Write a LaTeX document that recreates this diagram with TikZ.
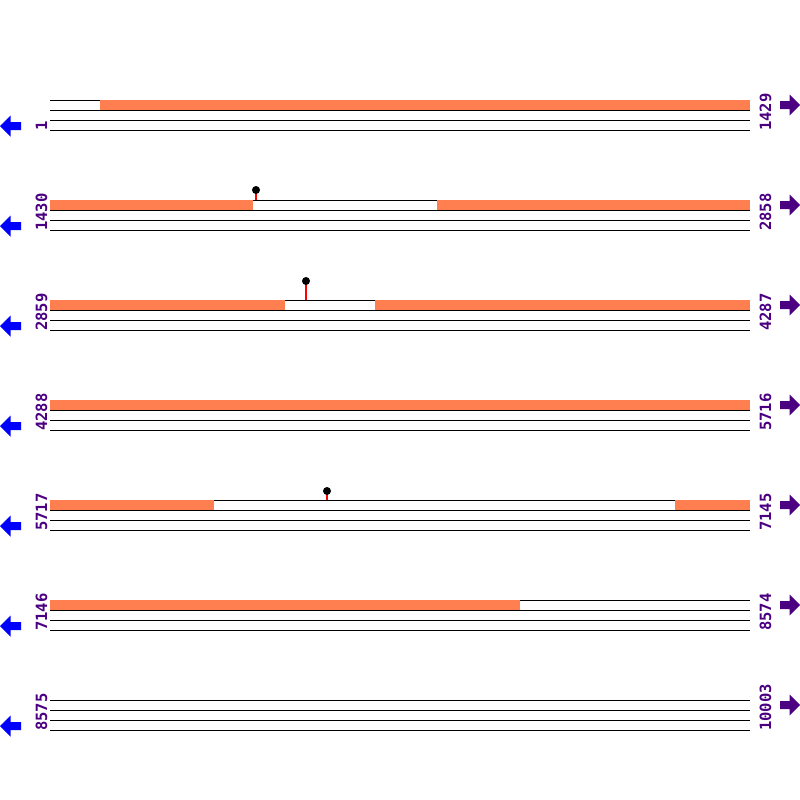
\documentclass[tikz,border=0pt]{standalone}
\usepackage{fontspec}
\newfontfamily\posfont{DejaVu Sans Mono Bold}
\definecolor{coral}{RGB}{255,127,80}
\definecolor{indigo}{RGB}{75,0,130}

\begin{document}
\begin{tikzpicture}[x=1pt,y=-1pt,
  track/.style={black,line width=1pt},
  covered/.style={fill=coral,draw=none},
  poslabel/.style={text=indigo,rotate=90,anchor=base west,inner sep=0pt,font=\posfont\fontsize{15.5}{16}\selectfont},
  stem/.style={red,line width=1.6pt},
  bulb/.style={fill=black,draw=none}]
\useasboundingbox (0,0) rectangle (800,800);
% the seven rows: number, first and last position
\foreach \r/\lo/\hi in {0/1/1429, 1/1430/2858, 2/2859/4287, 3/4288/5716, 4/5717/7145, 5/7146/8574, 6/8575/10003} {
   \pgfmathsetmacro{\yy}{100+100*\r}
   \draw[track] (50,\yy) -- (750,\yy);
   \draw[track] (50,\yy+10) -- (750,\yy+10);
   \draw[track] (50,\yy+20) -- (750,\yy+20);
   \draw[track] (50,\yy+30) -- (750,\yy+30);
   \node[poslabel] (lo\r) at (47,\yy+31) {\lo};
   \node[poslabel] (hi\r) at (771,\yy+31) {\hi};
   \fill[blue] (0,\yy+26) -- (10.5,\yy+15.5) -- (10.5,\yy+22) -- (21,\yy+22) -- (21,\yy+30) -- (10.5,\yy+30) -- (10.5,\yy+36.5) -- cycle;
   \fill[indigo] (800,\yy+5) -- (789.5,\yy-5.5) -- (789.5,\yy+1) -- (780,\yy+1) -- (780,\yy+9) -- (789.5,\yy+9) -- (789.5,\yy+15.5) -- cycle;
}
% covered stretches
\fill[covered] (100,100) rectangle (750,110);
\fill[covered] (50,200) rectangle (253,210);
\fill[covered] (437,200) rectangle (750,210);
\fill[covered] (50,300) rectangle (285,310);
\fill[covered] (375,300) rectangle (750,310);
\fill[covered] (50,400) rectangle (750,410);
\fill[covered] (50,500) rectangle (214,510);
\fill[covered] (675,500) rectangle (750,510);
\fill[covered] (50,600) rectangle (520,610);
% markers
\draw[stem] (256,193) -- (256,200);
\fill[bulb] (256,190) circle (4);
\draw[stem] (306,284) -- (306,300);
\fill[bulb] (306,281) circle (4);
\draw[stem] (327,494) -- (327,500);
\fill[bulb] (327,491) circle (4);
\end{tikzpicture}
\end{document}
